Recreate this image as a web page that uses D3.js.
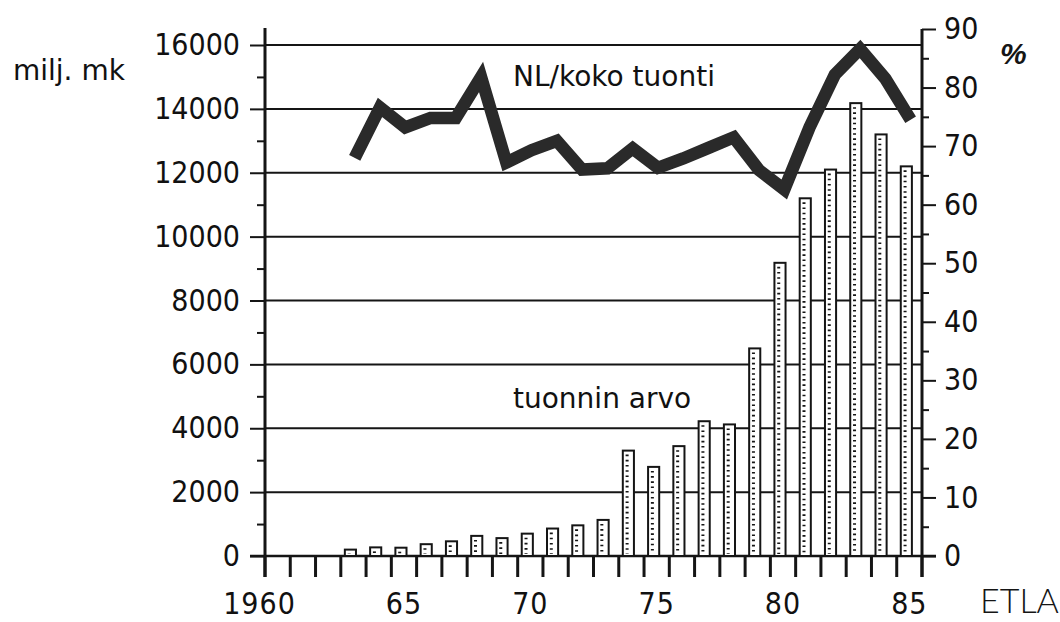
<!DOCTYPE html>
<html>
<head>
<meta charset="utf-8">
<script src="https://cdn.jsdelivr.net/npm/d3@7"></script>
<style>
  body { margin: 0; background: #fff; }
  svg { display: block; }
  .num { font-family: "DejaVu Sans Condensed", "Liberation Sans", sans-serif; font-size: 30px; fill: #111; }
  .lbl { font-family: "DejaVu Sans", sans-serif; font-size: 28px; fill: #111; }
</style>
</head>
<body>
<svg id="chart" width="1060" height="622"></svg>
<script>
// Import value (milj. mk, bars) and share of total imports (%, line), 1963–1985
const years = [1963, 1964, 1965, 1966, 1967, 1968, 1969, 1970, 1971, 1972, 1973, 1974,
               1975, 1976, 1977, 1978, 1979, 1980, 1981, 1982, 1983, 1984, 1985];
const importValue = [200, 270, 260, 370, 460, 630, 560, 700, 860, 960, 1130, 3300,
                     2790, 3440, 4220, 4120, 6500, 9180, 11200, 12100, 14180, 13200, 12200];
const importShare = [68, 76.6, 73.2, 74.8, 74.8, 81.8, 67.2, 69.3, 70.9, 66, 66.2, 69.6,
                     66.3, 67.9, 69.7, 71.5, 65.9, 62.6, 73.2, 82.2, 86.6, 81.5, 74.5];

const leftTicks = [0, 2000, 4000, 6000, 8000, 10000, 12000, 14000, 16000];
const leftMinor = [1000, 3000, 5000, 7000, 9000, 11000, 13000, 15000];
const rightTicks = [0, 10, 20, 30, 40, 50, 60, 70, 80, 90];
const rightMinor = [5, 15, 25, 35, 45, 55, 65, 75, 85];
const xTickYears = [1960, 1961, 1962, 1963, 1964, 1965, 1966, 1967, 1968, 1969, 1970, 1971, 1972,
                    1973, 1974, 1975, 1976, 1977, 1978, 1979, 1980, 1981, 1982, 1983, 1984, 1985, 1986];
const xLabelYears = [1960, 1965, 1970, 1975, 1980, 1985];
const xLabelText = ["1960", "65", "70", "75", "80", "85"];

const ink = "#151515";
const svg = d3.select("#chart");

const x = d3.scaleLinear().domain([1960, 1986]).range([265, 922]);
const yL = d3.scaleLinear().domain([0, 16000]).range([556, 45]);
const yR = d3.scaleLinear().domain([0, 90]).range([556, 29]);

// horizontal grid from the left scale
svg.append("g").selectAll("line").data(leftTicks.filter(v => v > 0)).join("line")
  .attr("x1", x(1960)).attr("x2", x(1986))
  .attr("y1", d => yL(d)).attr("y2", d => yL(d))
  .attr("stroke", ink).attr("stroke-width", 2);

// baseline
svg.append("line")
  .attr("x1", x(1960) - 15).attr("x2", x(1986) + 14)
  .attr("y1", yL(0)).attr("y2", yL(0))
  .attr("stroke", ink).attr("stroke-width", 2.5);

// left axis
const leftAxis = svg.append("g").attr("transform", `translate(${x(1960)},0)`)
  .call(d3.axisLeft(yL).tickValues(leftTicks).tickSize(15).tickPadding(10).tickFormat(d3.format("d")));
leftAxis.select(".domain").remove();
leftAxis.selectAll(".tick line").attr("stroke", ink).attr("stroke-width", 2);
leftAxis.selectAll(".tick text").attr("class", "num").attr("font-size", null).attr("font-family", null).attr("fill", null);
svg.append("g").attr("transform", `translate(${x(1960)},0)`)
  .call(d3.axisLeft(yL).tickValues(leftMinor).tickSize(8).tickFormat(""))
  .call(g => g.select(".domain").remove())
  .selectAll(".tick line").attr("stroke", ink).attr("stroke-width", 2);
svg.append("line")
  .attr("x1", x(1960)).attr("x2", x(1960)).attr("y1", 28).attr("y2", 577)
  .attr("stroke", ink).attr("stroke-width", 3);

// right axis
const rightAxis = svg.append("g").attr("transform", `translate(${x(1986)},0)`)
  .call(d3.axisRight(yR).tickValues(rightTicks).tickSize(14).tickPadding(8));
rightAxis.select(".domain").remove();
rightAxis.selectAll(".tick line").attr("stroke", ink).attr("stroke-width", 2);
rightAxis.selectAll(".tick text").attr("class", "num").attr("font-size", null).attr("font-family", null).attr("fill", null);
svg.append("g").attr("transform", `translate(${x(1986)},0)`)
  .call(d3.axisRight(yR).tickValues(rightMinor).tickSize(7).tickFormat(""))
  .call(g => g.select(".domain").remove())
  .selectAll(".tick line").attr("stroke", ink).attr("stroke-width", 2);
svg.append("line")
  .attr("x1", x(1986)).attr("x2", x(1986)).attr("y1", yR(90)).attr("y2", 577)
  .attr("stroke", ink).attr("stroke-width", 3);

// year ticks along the bottom
svg.append("g").selectAll("line").data(xTickYears).join("line")
  .attr("x1", d => x(d)).attr("x2", d => x(d))
  .attr("y1", yL(0)).attr("y2", 577)
  .attr("stroke", ink).attr("stroke-width", 3);
svg.append("g").selectAll("text").data(xLabelYears).join("text")
  .attr("class", "num")
  .attr("x", d => x(d + 1.22)).attr("y", 614)
  .attr("text-anchor", "end")
  .attr("letter-spacing", 1)
  .text((d, i) => xLabelText[i]);

// bars: outlined columns with a dotted spine
const barData = years.map((yr, i) => ({ yr, v: importValue[i] }));
const bars = svg.append("g");
bars.selectAll("rect").data(barData).join("rect")
  .attr("x", d => x(d.yr + 0.16))
  .attr("width", d => x(d.yr + 0.6) - x(d.yr + 0.16))
  .attr("y", d => yL(d.v))
  .attr("height", d => yL(0) - yL(d.v))
  .attr("fill", "#fff").attr("stroke", ink).attr("stroke-width", 2);
bars.selectAll("line").data(barData).join("line")
  .attr("x1", d => x(d.yr + 0.33)).attr("x2", d => x(d.yr + 0.33))
  .attr("y1", d => Math.min(yL(d.v) + 4, yL(0) - 2)).attr("y2", yL(0) - 2)
  .attr("stroke", ink).attr("stroke-width", 3).attr("stroke-dasharray", "1.6 3.6");

// share line
const lineData = years.map((yr, i) => ({ yr, v: importShare[i] }));
svg.append("path").datum(lineData)
  .attr("d", d3.line().x(d => x(d.yr + 0.55)).y(d => yR(d.v)))
  .attr("fill", "none").attr("stroke", "#2a2a2a").attr("stroke-width", 12.5)
  .attr("stroke-linejoin", "miter").attr("stroke-miterlimit", 10);

// captions
svg.append("text").attr("class", "lbl").attr("x", 13).attr("y", 80).text("milj. mk");
svg.append("text").attr("class", "lbl").attr("x", 513).attr("y", 86).text("NL/koko tuonti");
svg.append("text").attr("class", "lbl").attr("x", 513).attr("y", 408).attr("font-size", 27).text("tuonnin arvo");
svg.append("text").attr("x", 1000).attr("y", 64)
  .attr("font-family", "Liberation Sans, sans-serif").attr("font-weight", "bold")
  .attr("font-style", "italic").attr("font-size", 30).attr("fill", ink).text("%");
svg.append("text").attr("x", 980).attr("y", 613)
  .attr("font-family", "Lato, sans-serif").attr("font-weight", 300)
  .attr("font-size", 34).attr("fill", ink).text("ETLA");
</script>
</body>
</html>
